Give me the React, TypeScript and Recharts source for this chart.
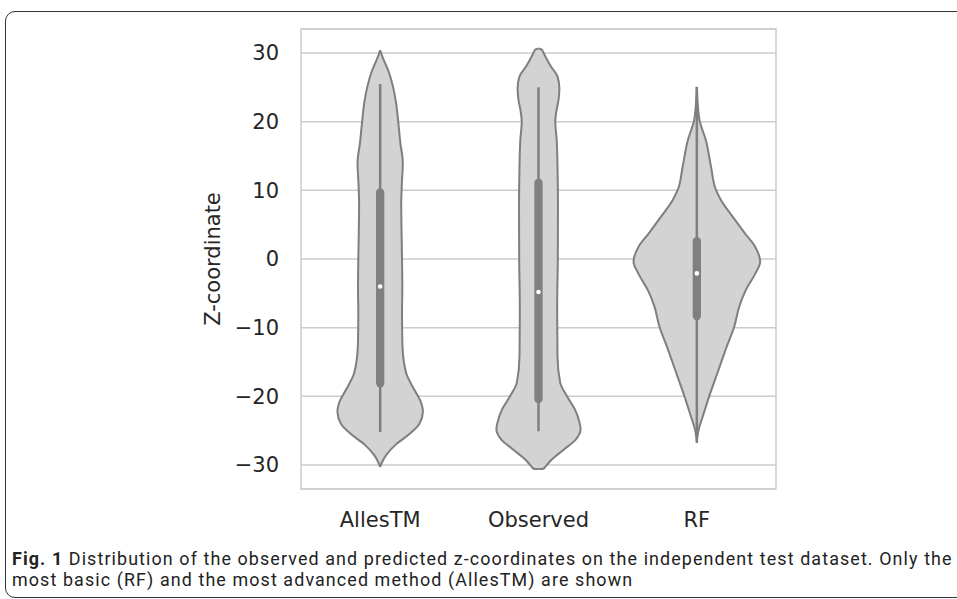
import React from "react";
import {
  ComposedChart,
  Area,
  Line,
  XAxis,
  YAxis,
  CartesianGrid,
  ReferenceArea,
} from "recharts";

const categories = ["AllesTM", "Observed", "RF"];
const zTicks = [-30, -20, -10, 0, 10, 20, 30];

// violin outlines: z level and half width (in category units)
const allesZ = [30.4, 29.6, 28.6, 27.2, 25.2, 22.8, 20.0, 17.0, 14.0, 11.0, 8.0, 4.0, 0, -4, -8, -12, -15, -17, -19, -20.6, -22.2, -24, -25.5, -27, -28.5, -29.6, -30.3];
const allesW = [0, 0.012, 0.03, 0.055, 0.08, 0.1, 0.114, 0.127, 0.143, 0.137, 0.133, 0.135, 0.138, 0.14, 0.138, 0.14, 0.15, 0.17, 0.215, 0.253, 0.27, 0.248, 0.185, 0.1, 0.04, 0.012, 0];

const observedZ = [30.65, 30.5, 30.0, 29.0, 28.0, 26.6, 24.8, 23.1, 21.7, 20.0, 17.3, 13.5, 7.6, 0, -6.9, -14.2, -18, -20, -21.9, -23.9, -24.8, -26.3, -27.7, -29.2, -30.2, -30.55, -30.6];
const observedW = [0, 0.02, 0.032, 0.055, 0.08, 0.12, 0.132, 0.126, 0.114, 0.106, 0.115, 0.12, 0.123, 0.122, 0.118, 0.12, 0.137, 0.18, 0.23, 0.26, 0.266, 0.235, 0.163, 0.084, 0.045, 0.03, 0];

const rfZ = [25.0, 22.5, 20.2, 17.3, 13.4, 10.1, 8.6, 6.2, 3.7, 1.8, -0.4, -2.1, -4.5, -6.9, -9.8, -12.7, -16.6, -20, -22.9, -24.8, -26.5];
const rfW = [0, 0.006, 0.017, 0.057, 0.09, 0.12, 0.152, 0.225, 0.305, 0.368, 0.4, 0.37, 0.31, 0.268, 0.237, 0.19, 0.13, 0.078, 0.038, 0.012, 0];

// inner box plot
const whiskerHigh = [25.5, 25.0, 25.1];
const whiskerLow = [-25.2, -25.1, -26.8];
const q3 = [9.7, 11.1, 2.6];
const q1 = [-18.1, -20.4, -8.3];
const medians = [-4.0, -4.8, -2.1];

const violins = [
  { z: allesZ, w: allesW },
  { z: observedZ, w: observedW },
  { z: rfZ, w: rfW },
];

function buildRows() {
  const rows = new Map<number, any>();
  const row = (z: number) => {
    if (!rows.has(z)) rows.set(z, { z });
    return rows.get(z);
  };
  violins.forEach((v, i) => {
    v.z.forEach((z, j) => {
      row(z)[`violin${i}`] = [i - v.w[j], i + v.w[j]];
    });
  });
  categories.forEach((_, i) => {
    row(whiskerHigh[i])[`whisker${i}`] = i;
    row(whiskerLow[i])[`whisker${i}`] = i;
    row(q3[i])[`box${i}`] = i;
    row(q1[i])[`box${i}`] = i;
    row(medians[i])[`median${i}`] = i;
  });
  const list = Array.from(rows.values()).sort((a, b) => b.z - a.z);
  list.forEach((r) => {
    categories.forEach((_, i) => {
      if (!r[`violin${i}`]) r[`violin${i}`] = [null, null];
    });
  });
  return list;
}

const rows = buildRows();

const gray = "#7f7f7f";
const tickStyle = { fontSize: 21, fill: "#262626", fontFamily: "DejaVu Sans" };
const fmtZ = (v: number) => (v < 0 ? `\u2212${Math.abs(v)}` : `${v}`);

const captionStyle: React.CSSProperties = {
  position: "absolute",
  left: 12,
  fontFamily: "Roboto",
  fontSize: 17.9,
  letterSpacing: 1.1,
  lineHeight: "21px",
  color: "#222",
  whiteSpace: "nowrap",
};

export default function App() {
  return (
    <div
      style={{
        position: "absolute",
        left: 0,
        top: 0,
        width: 957,
        height: 599,
        background: "#fff",
        overflow: "hidden",
      }}
    >
      <div
        style={{
          position: "absolute",
          left: 5,
          top: 11,
          width: 1100,
          height: 585,
          border: "1.5px solid #333",
          borderRadius: 10,
        }}
      />
      <div style={{ position: "absolute", left: 0, top: 0 }}>
        <ComposedChart
          width={800}
          height={540}
          data={rows}
          layout="vertical"
          margin={{ top: 29, right: 24, left: 211, bottom: 6 }}
        >
          <CartesianGrid
            horizontal={true}
            vertical={false}
            stroke="#cccccc"
            strokeWidth={1.5}
          />
          <ReferenceArea
            x1={-0.5}
            x2={2.5}
            y1={-33.5}
            y2={33.5}
            fill="none"
            stroke="#cccccc"
            strokeWidth={1.5}
            ifOverflow="visible"
          />
          <XAxis
            type="number"
            domain={[-0.5, 2.5]}
            ticks={[0, 1, 2]}
            interval={0}
            allowDataOverflow
            tickFormatter={(i: number) => categories[i] ?? ""}
            axisLine={false}
            tickLine={false}
            tickSize={0}
            tickMargin={23}
            height={45}
            tick={tickStyle}
          />
          <YAxis
            type="number"
            dataKey="z"
            domain={[-33.5, 33.5]}
            ticks={zTicks}
            interval={0}
            reversed
            allowDataOverflow
            tickFormatter={fmtZ}
            axisLine={false}
            tickLine={false}
            tickSize={0}
            tickMargin={22}
            width={90}
            tick={tickStyle}
          />
          {categories.map((c, i) => (
            <Area
              key={`v${i}`}
              dataKey={`violin${i}`}
              type="monotone"
              fill="#d3d3d3"
              fillOpacity={1}
              stroke={gray}
              strokeWidth={2}
              connectNulls
              dot={false}
              activeDot={false}
              isAnimationActive={false}
            />
          ))}
          {categories.map((c, i) => (
            <Line
              key={`w${i}`}
              dataKey={`whisker${i}`}
              type="linear"
              stroke={gray}
              strokeWidth={2.5}
              connectNulls
              dot={false}
              activeDot={false}
              isAnimationActive={false}
            />
          ))}
          {categories.map((c, i) => (
            <Line
              key={`b${i}`}
              dataKey={`box${i}`}
              type="linear"
              stroke={gray}
              strokeWidth={8.3}
              strokeLinecap="round"
              connectNulls
              dot={false}
              activeDot={false}
              isAnimationActive={false}
            />
          ))}
          {categories.map((c, i) => (
            <Line
              key={`m${i}`}
              dataKey={`median${i}`}
              type="linear"
              stroke="none"
              connectNulls
              dot={{ r: 2.3, fill: "#ffffff", stroke: "none" }}
              activeDot={false}
              isAnimationActive={false}
            />
          ))}
        </ComposedChart>
      </div>
      <div
        style={{
          position: "absolute",
          left: 213,
          top: 259,
          transform: "translate(-50%, -50%) rotate(-90deg)",
          fontFamily: "DejaVu Sans",
          fontSize: 21,
          lineHeight: 1,
          color: "#262626",
          whiteSpace: "nowrap",
        }}
      >
        Z-coordinate
      </div>
      <div style={{ ...captionStyle, top: 547.5 }}>
        <b>Fig. 1</b> Distribution of the observed and predicted z-coordinates on
        the independent test dataset. Only the
      </div>
      <div style={{ ...captionStyle, top: 568.5 }}>
        most basic (RF) and the most advanced method (AllesTM) are shown
      </div>
    </div>
  );
}
